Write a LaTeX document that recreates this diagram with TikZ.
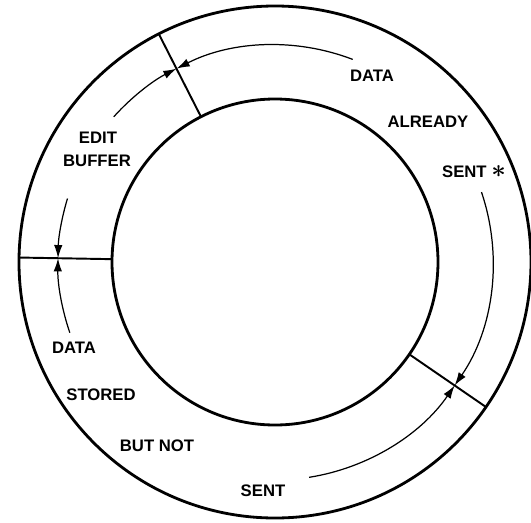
\documentclass[tikz,border=0pt]{standalone}
\usepackage{fontspec}
\setmainfont{Liberation Sans}
\usetikzlibrary{arrows.meta}

\begin{document}
\begin{tikzpicture}[
  x=0.02cm, y=0.02cm,
  ring/.style={line width=1.6pt},
  divider/.style={line width=1.1pt},
  flow/.style={-{Latex[length=7.5pt, width=4.8pt]}, line width=0.7pt},
  lbl/.style={font=\fontsize{9.5}{11}\selectfont\bfseries, inner sep=0pt},
]
\useasboundingbox (-275,-260) rectangle (256,262);

%% Rings
\coordinate (c) at (0,0);
\draw[ring] (c) circle[radius=256];
\draw[ring] (c) circle[radius=163];

%% Dividers across the ring
\foreach \a/\n in {117/tl, 179/l, -34.5/br} {
  \draw[divider] (\a:163) coordinate (\n-in) -- (\a:256) coordinate (\n-out);
}

%% Arrows along the ring, meeting at the dividers
\coordinate (f1) at (69:217);
\coordinate (f2) at (138:217);
\coordinate (f3) at (163:217);
\coordinate (f4) at (199:217);
\coordinate (f5) at (18.7:218);
\coordinate (f6) at (-81:218);
\draw[flow] (f1) arc[start angle=69, end angle=117, radius=217];
\draw[flow] (f2) arc[start angle=138, end angle=117, radius=217];
\draw[flow] (f3) arc[start angle=163, end angle=179, radius=217];
\draw[flow] (f4) arc[start angle=199, end angle=179, radius=217];
\draw[flow] (f5) arc[start angle=18.7, end angle=-34.5, radius=218];
\draw[flow] (f6) arc[start angle=-81, end angle=-34.5, radius=218];

%% Labels
\node[lbl] (sent1)   at (97,186)   {DATA};
\node[lbl] (already) at (153,140)  {ALREADY};
\node[lbl] (sent2)   at (199,90)   {SENT~{\Large\boldmath$\ast$}};
\node[lbl] (edit)    at (-177,124) {EDIT};
\node[lbl] (buffer)  at (-178,101) {BUFFER};
\node[lbl] (stored1) at (-201,-86) {DATA};
\node[lbl] (stored2) at (-174,-133) {STORED};
\node[lbl] (butnot)  at (-118,-184) {BUT NOT};
\node[lbl] (sent3)   at (-12,-229) {SENT};

\end{tikzpicture}
\end{document}
